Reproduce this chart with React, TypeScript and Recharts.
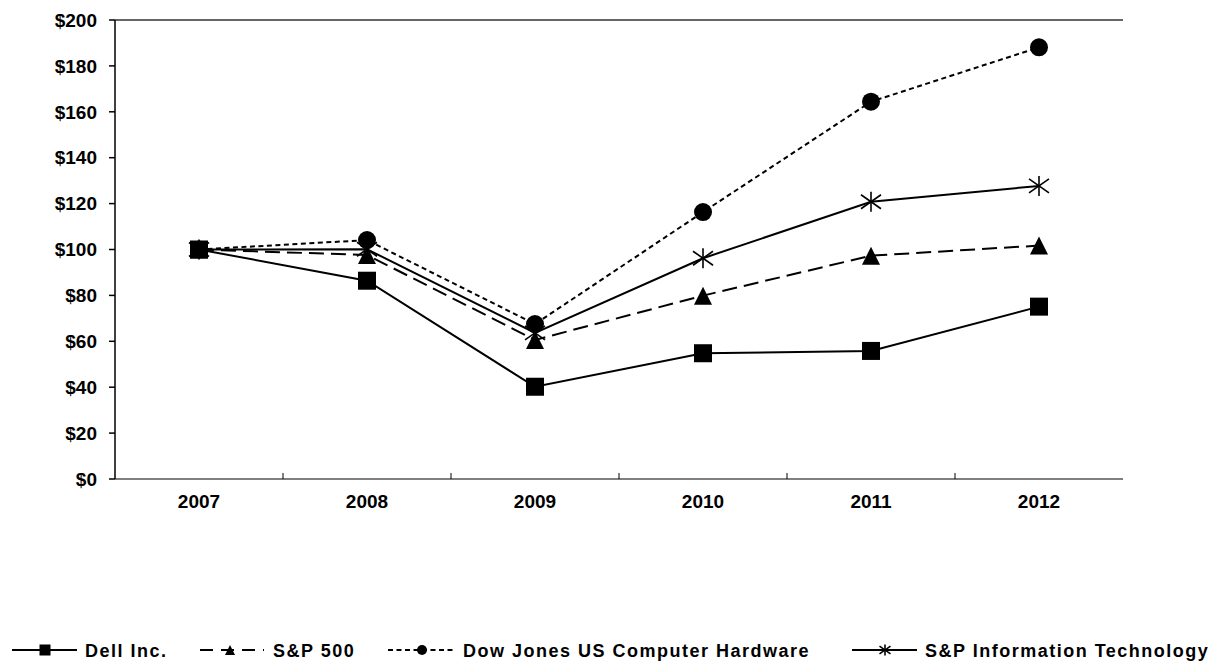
import React from 'react'
import { LineChart, Line, XAxis, YAxis, ReferenceLine } from 'recharts'

const years = ['2007', '2008', '2009', '2010', '2011', '2012']
const dell = [100, 86.4, 40.2, 54.8, 55.8, 75.1]
const sp500 = [100, 97.6, 60.6, 79.9, 97.3, 101.7]
const djHardware = [100, 104.1, 67.5, 116.3, 164.4, 188.1]
const spIT = [100, 100.1, 63.7, 96.2, 120.8, 127.7]
const yTicks = [0, 20, 40, 60, 80, 100, 120, 140, 160, 180, 200]
const seriesNames = ['Dell Inc.', 'S&P 500', 'Dow Jones US Computer Hardware', 'S&P Information Technology']

const data = years.map((year, i) => ({
  year,
  dell: dell[i],
  sp500: sp500[i],
  dj: djHardware[i],
  it: spIT[i],
}))

const FONT = '"Liberation Sans", Arial, sans-serif'

const Square = ({ cx, cy, s }: { cx: number; cy: number; s: number }) => (
  <rect x={cx - s / 2} y={cy - s / 2} width={s} height={s} fill="#000" />
)
const Triangle = ({ cx, cy, s }: { cx: number; cy: number; s: number }) => (
  <polygon
    points={`${cx},${cy - s / 2} ${cx + s / 2},${cy + s / 2} ${cx - s / 2},${cy + s / 2}`}
    fill="#000"
  />
)
const Dot = ({ cx, cy, s }: { cx: number; cy: number; s: number }) => (
  <circle cx={cx} cy={cy} r={s / 2} fill="#000" />
)
const Star = ({ cx, cy, s }: { cx: number; cy: number; s: number }) => {
  const h = s / 2
  return (
    <g stroke="#000" strokeWidth={1.6}>
      <line x1={cx} y1={cy - h} x2={cx} y2={cy + h} />
      <line x1={cx - h} y1={cy - h * 0.7} x2={cx + h} y2={cy + h * 0.7} />
      <line x1={cx - h} y1={cy + h * 0.7} x2={cx + h} y2={cy - h * 0.7} />
    </g>
  )
}

const marker = (Shape: any, s: number) => (props: any) => (
  <g key={`${props.dataKey}-${props.index}`}>
    <Shape cx={props.cx} cy={props.cy} s={s} />
  </g>
)

const XTick = (props: any) => {
  const { x, y, payload, index } = props
  const axisY = y - 16
  const half = payload.offset || 0
  return (
    <g>
      {index > 0 && (
        <line x1={x - half} y1={axisY} x2={x - half} y2={axisY - 6} stroke="#000" strokeWidth={1} />
      )}
      <text x={x} y={y} dy="0.71em" textAnchor="middle" fontFamily={FONT} fontWeight="bold" fontSize={19} fill="#000">
        {payload.value}
      </text>
    </g>
  )
}

function Legend() {
  const cy = 20
  const base = 27
  const textProps = {
    fontFamily: FONT,
    fontWeight: 'bold' as const,
    fontSize: 18,
    letterSpacing: 1.5,
    fill: '#000',
  }
  return (
    <svg width={1222} height={40} style={{ position: 'absolute', left: 0, top: 630 }}>
      <line x1={12} y1={cy} x2={77} y2={cy} stroke="#000" strokeWidth={2} />
      <Square cx={45} cy={cy} s={11} />
      <text x={85} y={base} {...textProps}>{seriesNames[0]}</text>

      <line x1={200} y1={cy} x2={264} y2={cy} stroke="#000" strokeWidth={2} strokeDasharray="13 8" />
      <Triangle cx={230} cy={cy} s={10} />
      <text x={273} y={base} {...textProps}>{seriesNames[1]}</text>

      <line x1={388} y1={cy} x2={455} y2={cy} stroke="#000" strokeWidth={2} strokeDasharray="5 3.5" />
      <Dot cx={422} cy={cy} s={10} />
      <text x={463} y={base} {...textProps}>{seriesNames[2]}</text>

      <line x1={852} y1={cy} x2={917} y2={cy} stroke="#000" strokeWidth={2} />
      <Star cx={885} cy={cy} s={11} />
      <text x={925} y={base} {...textProps}>{seriesNames[3]}</text>
    </svg>
  )
}

export default function App() {
  return (
    <div style={{ position: 'absolute', left: 0, top: 0, width: 1222, height: 664, background: '#fff' }}>
      <LineChart width={1222} height={560} data={data} margin={{ top: 20, right: 99, bottom: 41, left: 0 }}>
        <ReferenceLine y={200} stroke="#333" strokeWidth={1.5} />
        <XAxis
          dataKey="year"
          scale="band"
          stroke="#555"
          strokeWidth={1.5}
          tickLine={false}
          tickSize={0}
          tickMargin={16}
          height={40}
          tick={<XTick />}
        />
        <YAxis
          width={115}
          domain={[0, 200]}
          ticks={yTicks}
          stroke="#000"
          strokeWidth={1.5}
          tickSize={6}
          tickMargin={12}
          tickFormatter={(v: number) => `$${v}`}
          tick={{ fontFamily: FONT, fontWeight: 'bold', fontSize: 19, fill: '#000' }}
          interval={0}
        />
        <Line dataKey="dell" stroke="#000" strokeWidth={2} dot={marker(Square, 18)} isAnimationActive={false} />
        <Line
          dataKey="sp500"
          stroke="#000"
          strokeWidth={2}
          strokeDasharray="15 7"
          dot={marker(Triangle, 18)}
          isAnimationActive={false}
        />
        <Line
          dataKey="dj"
          stroke="#000"
          strokeWidth={2}
          strokeDasharray="5 3.5"
          dot={marker(Dot, 18)}
          isAnimationActive={false}
        />
        <Line dataKey="it" stroke="#000" strokeWidth={2} dot={marker(Star, 20)} isAnimationActive={false} />
      </LineChart>
      <Legend />
    </div>
  )
}
